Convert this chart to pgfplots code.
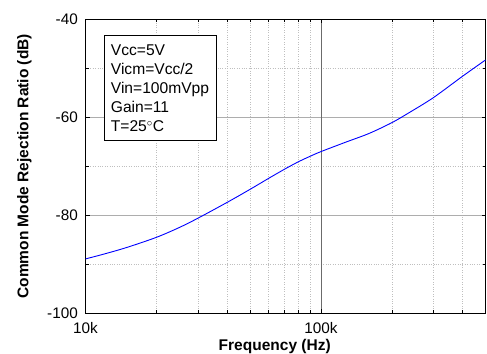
\documentclass[border=0pt]{standalone}
\usepackage{fontspec}
\setmainfont{Liberation Sans}
\usepackage{pgfplots}
\pgfplotsset{compat=1.18}
\begin{document}
\begin{tikzpicture}
\path[use as bounding box] (-85.5pt,-40.5pt) rectangle (401.5pt,313.3pt);
\begin{axis}[
  at={(0pt,0pt)}, anchor=south west,
  scale only axis,
  width=400pt, height=294pt,
  xmode=log,
  xmin=1e4, xmax=5e5,
  ymin=-100, ymax=-40,
  xtick={1e4,1e5},
  xticklabels={10k,100k},
  ytick={-100,-80,-60,-40},
  minor ytick={-90,-70,-50},
  minor xtick={2e4,3e4,4e4,5e4,6e4,7e4,8e4,9e4,2e5,3e5,4e5},
  grid=both,
  major grid style={black!32, line width=0.9pt},
  minor grid style={black!25, dotted, line width=0.5pt},
  tick align=inside,
  major tick length=4pt,
  minor tick length=3pt,
  tick style={black, line width=0.6pt},
  axis line style={black, line width=0.8pt},
  tick label style={font=\fontsize{15.3}{17}\selectfont, inner sep=1pt},
  /pgf/number format/assume math mode=true,
  yticklabel style={xshift=-6.5pt},
  xticklabel style={yshift=-7.5pt},
  xlabel={\textbf{Frequency (Hz)}},
  ylabel={\textbf{Common Mode Rejection Ratio (dB)}},
  label style={font=\fontsize{15.5}{17}\selectfont},
  xlabel style={at={(axis description cs:0.473,-0.0772)}, anchor=north},
  ylabel style={at={(axis description cs:-0.12625,0.5)}, anchor=south},
  extra x ticks={1e5},
  extra x tick labels={},
  extra x tick style={grid=major, major grid style={black!58, line width=0.8pt}},
]
\addplot[blue, line width=0.9pt, smooth, tension=0.5] coordinates {
(1e4,-88.9) (1.2e4,-87.9) (1.5e4,-86.55) (2e4,-84.5) (2.5e4,-82.5) (3e4,-80.6) (4e4,-77.35)
(5e4,-74.7) (6e4,-72.45) (7e4,-70.6) (8e4,-69.1) (9e4,-67.95) (1e5,-67.0) (1.27e5,-65.1)
(1.6e5,-63.3) (2e5,-61.1) (2.36e5,-59.1) (3e5,-56.0) (4e5,-51.6) (5e5,-48.3)
};
\end{axis}
\node[draw=black, fill=white, line width=0.6pt, anchor=north west, inner sep=0pt,
  minimum width=112pt, minimum height=105pt] (box) at (18.5pt,278.3pt) {};
\node[anchor=north west, align=left, inner sep=0pt,
  font=\fontsize{15.6}{19}\selectfont] at ([shift={(6.7pt,-10pt)}]box.north west)
  {Vcc=5V\\Vicm=Vcc/2\\Vin=100mVpp\\Gain=11\\T=25$^\circ$C};
\end{tikzpicture}
\end{document}
